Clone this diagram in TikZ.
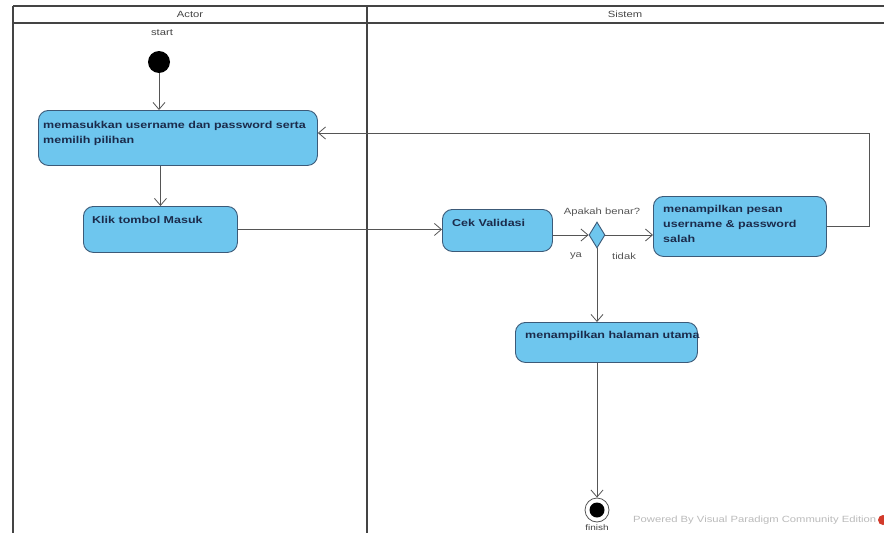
\documentclass[tikz,border=0pt]{standalone}
\usepackage{fontspec}
\setmainfont{Liberation Sans}
\newfontfamily\vpfont[FakeStretch=1.25]{Liberation Sans}
\usetikzlibrary{arrows.meta,shapes.geometric,calc}
\definecolor{actfill}{HTML}{6EC6EE}
\definecolor{actdraw}{HTML}{3C5A78}
\definecolor{acttext}{HTML}{1B2B4B}
\definecolor{lanecol}{HTML}{444444}
\definecolor{linecol}{HTML}{555555}
\definecolor{lblcol}{HTML}{555555}
\definecolor{wmcol}{HTML}{BBBBBB}
\definecolor{vpred}{HTML}{D23A2A}
\tikzset{
  act/.style={rectangle, rounded corners=10pt, draw=actdraw, line width=0.9pt, fill=actfill, anchor=north west, inner sep=0pt},
  acttxt/.style={anchor=north west, inner sep=0pt, align=left, text=acttext, font=\vpfont\fontsize{10}{15}\selectfont\bfseries},
  lbl/.style={inner sep=0pt, text=lblcol, font=\vpfont\fontsize{9}{11}\selectfont},
  flow/.style={draw=linecol, line width=0.8pt, -{Straight Barb[length=7pt,width=12pt]}},
  lane/.style={draw=lanecol, line width=1.5pt},
}
\begin{document}
\begin{tikzpicture}[x=1pt,y=-1pt]
\useasboundingbox (0,0) rectangle (884,533);
\fill[white] (0,0) rectangle (884,533);
% swimlanes
\draw[lane] (13,6) -- (884,6);
\draw[lane] (13,23) -- (884,23);
\draw[lane] (13,6) -- (13,533);
\draw[lane] (367,6) -- (367,533);
\node[lbl, text=lanecol] (hActor) at (190,14.5) {Actor};
\node[lbl, text=lanecol] (hSistem) at (625,14.5) {Sistem};
% start
\node[lbl, text=lanecol] (startlbl) at (162,33) {start};
\node[circle, fill=black, minimum size=22pt, inner sep=0pt] (start) at (159,62) {};
% actions
\node[act, minimum width=279pt, minimum height=55pt] (b1) at (38,110) {};
\node[acttxt] (b1t) at (43,121) {memasukkan username dan password serta\\memilih pilihan};
\node[act, minimum width=154pt, minimum height=46pt] (b2) at (83,206) {};
\node[acttxt] (b2t) at (92,216) {Klik tombol Masuk};
\node[act, minimum width=110pt, minimum height=42pt] (cek) at (442,209) {};
\node[acttxt] (cekt) at (452,219) {Cek Validasi};
\node[diamond, draw=actdraw, fill=actfill, line width=0.9pt, minimum width=16pt, minimum height=26pt, aspect=0.6, inner sep=0pt] (dec) at (597,235) {};
\node[lbl] (declbl) at (602,212) {Apakah benar?};
\node[act, minimum width=173pt, minimum height=60pt] (msg) at (653,196) {};
\node[acttxt] (msgt) at (663,205) {menampilkan pesan\\username \& password\\salah};
\node[act, minimum width=182pt, minimum height=40pt] (b4) at (515,322) {};
\node[acttxt] (b4t) at (525,331) {menampilkan halaman utama};
% end
\node[circle, draw=linecol, fill=white, line width=0.8pt, minimum size=24pt, inner sep=0pt] (end) at (597,510) {};
\node[circle, fill=black, minimum size=15pt, inner sep=0pt] (endin) at (end) {};
\node[lbl, text=lanecol, font=\vpfont\fontsize{8}{9}\selectfont] (endlbl) at (597,527.5) {finish};
% labels
\node[lbl] (ya) at (576,256) {ya};
\node[lbl] (tidak) at (624,256) {tidak};
% flows
\draw[flow] (start) -- (start |- b1.north);
\draw[flow] (b2.north |- b1.south) -- (b2.north);
\draw[flow] (b2.east) -- (b2.east -| cek.west);
\draw[flow] (dec.west -| cek.east) -- (dec.west);
\draw[flow] (dec.east) -- (dec.east -| msg.west);
\coordinate (loop) at (869,133);
\draw[flow] (msg.east) -| (loop) -- (loop -| b1.east);
\draw[flow] (dec.south) -- (dec.south |- b4.north);
\draw[flow] (end.north |- b4.south) -- (end.north);
% watermark
\node[lbl, text=wmcol, anchor=west] (wm) at (633,520) {Powered By Visual Paradigm Community Edition};
\node[circle, fill=vpred, minimum size=10pt, inner sep=0pt] (vplogo) at (883,520) {};
\end{tikzpicture}
\end{document}
